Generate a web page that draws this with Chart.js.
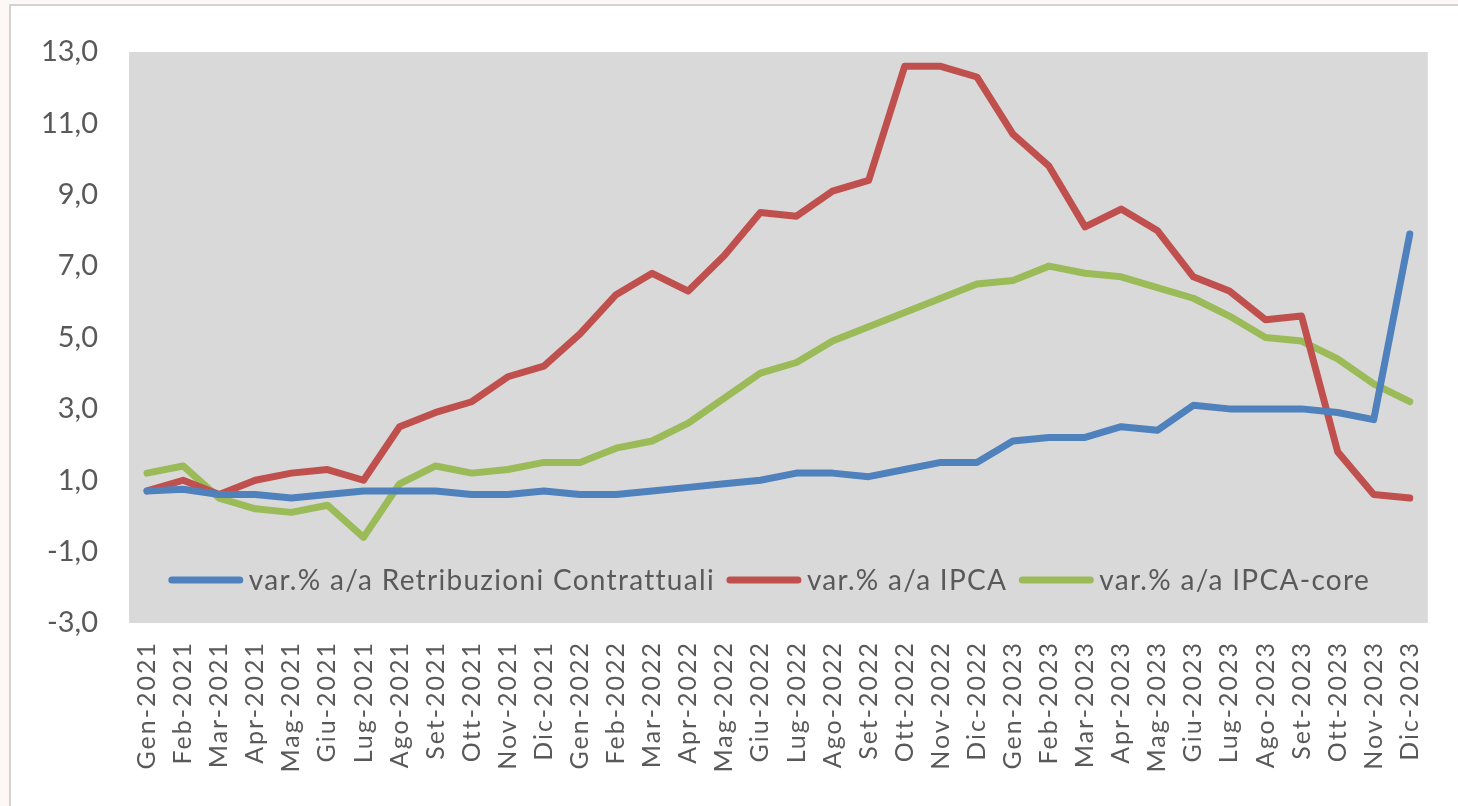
<!DOCTYPE html>
<html>
<head>
<meta charset="utf-8">
<script src="https://cdn.jsdelivr.net/npm/chart.js@4.4.1/dist/chart.umd.min.js"></script>
<style>
  html, body { margin: 0; padding: 0; background: #fdf8f6; }
  #wrap { position: relative; width: 1458px; height: 806px; }
  canvas { display: block; }
</style>
</head>
<body>
<div id="wrap"><canvas id="c" width="1458" height="806"></canvas></div>
<script>
const categories = [
  "Gen-2021","Feb-2021","Mar-2021","Apr-2021","Mag-2021","Giu-2021","Lug-2021","Ago-2021","Set-2021","Ott-2021","Nov-2021","Dic-2021",
  "Gen-2022","Feb-2022","Mar-2022","Apr-2022","Mag-2022","Giu-2022","Lug-2022","Ago-2022","Set-2022","Ott-2022","Nov-2022","Dic-2022",
  "Gen-2023","Feb-2023","Mar-2023","Apr-2023","Mag-2023","Giu-2023","Lug-2023","Ago-2023","Set-2023","Ott-2023","Nov-2023","Dic-2023"
];
const retribuzioni = [
  0.7, 0.75, 0.6, 0.6, 0.5, 0.6, 0.7, 0.7, 0.7, 0.6, 0.6, 0.7,
  0.6, 0.6, 0.7, 0.8, 0.9, 1.0, 1.2, 1.2, 1.1, 1.3, 1.5, 1.5,
  2.1, 2.2, 2.2, 2.5, 2.4, 3.1, 3.0, 3.0, 3.0, 2.9, 2.7, 7.9
];
const ipca = [
  0.7, 1.0, 0.6, 1.0, 1.2, 1.3, 1.0, 2.5, 2.9, 3.2, 3.9, 4.2,
  5.1, 6.2, 6.8, 6.3, 7.3, 8.5, 8.4, 9.1, 9.4, 12.6, 12.6, 12.3,
  10.7, 9.8, 8.1, 8.6, 8.0, 6.7, 6.3, 5.5, 5.6, 1.8, 0.6, 0.5
];
const ipcaCore = [
  1.2, 1.4, 0.5, 0.2, 0.1, 0.3, -0.6, 0.9, 1.4, 1.2, 1.3, 1.5,
  1.5, 1.9, 2.1, 2.6, 3.3, 4.0, 4.3, 4.9, 5.3, 5.7, 6.1, 6.5,
  6.6, 7.0, 6.8, 6.7, 6.4, 6.1, 5.6, 5.0, 4.9, 4.4, 3.7, 3.2
];
const seriesLabels = [
  "var.% a/a Retribuzioni Contrattuali",
  "var.% a/a IPCA",
  "var.% a/a IPCA-core"
];
const seriesColors = ["#4f81bd", "#c0504d", "#9bbb59"];
const yMin = -3, yMax = 13, yStep = 2;

class SpacedCategory extends Chart.CategoryScale {
  drawLabels(area) {
    const ctx = this.ctx;
    ctx.save();
    ctx.letterSpacing = '2px';
    super.drawLabels(area);
    ctx.restore();
  }
}
SpacedCategory.id = 'spacedCategory';
SpacedCategory.defaults = Chart.CategoryScale.defaults;
Chart.register(SpacedCategory);

const plotBg = {
  id: 'plotBg',
  beforeDraw(chart) {
    const ctx = chart.ctx, a = chart.chartArea;
    ctx.save();
    ctx.fillStyle = '#ffffff';
    ctx.fillRect(10, 5, chart.width - 10, chart.height - 5);
    ctx.strokeStyle = '#d3d3d3';
    ctx.lineWidth = 2;
    ctx.beginPath();
    ctx.moveTo(10, chart.height); ctx.lineTo(10, 5); ctx.lineTo(chart.width, 5);
    ctx.stroke();
    ctx.fillStyle = '#d9d9d9';
    ctx.fillRect(a.left, a.top, a.right - a.left, a.bottom - a.top);
    ctx.restore();
  }
};

const innerLegend = {
  id: 'innerLegend',
  afterDatasetsDraw(chart) {
    const ctx = chart.ctx, a = chart.chartArea;
    ctx.save();
    ctx.font = '28px Lato';
    ctx.letterSpacing = '1.3px';
    ctx.textBaseline = 'middle';
    const lineLen = 74, gapText = 6, gapItem = 12;
    const items = chart.data.datasets.map(ds => ({
      label: ds.label, color: ds.borderColor, w: ctx.measureText(ds.label).width
    }));
    let total = 0;
    items.forEach((it, i) => { total += lineLen + gapText + it.w + (i < items.length - 1 ? gapItem : 0); });
    let x = (a.left + a.right) / 2 - 9 - total / 2;
    const y = a.bottom - 43;
    items.forEach(it => {
      ctx.strokeStyle = it.color;
      ctx.lineWidth = 7;
      ctx.lineCap = 'round';
      ctx.beginPath(); ctx.moveTo(x + 3, y); ctx.lineTo(x + lineLen - 3, y); ctx.stroke();
      ctx.fillStyle = '#595959';
      ctx.fillText(it.label, x + lineLen + gapText, y + 1);
      x += lineLen + gapText + it.w + gapItem;
    });
    ctx.restore();
  }
};

const mk = (i, data) => ({
  label: seriesLabels[i], data, borderColor: seriesColors[i], backgroundColor: seriesColors[i],
  borderWidth: 7, pointRadius: 0, tension: 0, borderCapStyle: 'round', borderJoinStyle: 'round', fill: false
});

new Chart(document.getElementById('c'), {
  type: 'line',
  data: {
    labels: categories,
    datasets: [mk(0, retribuzioni), mk(1, ipca), mk(2, ipcaCore)]
  },
  options: {
    responsive: false,
    animation: false,
    layout: { padding: { top: 52, right: 15, left: 0, bottom: 0 } },
    plugins: { legend: { display: false }, tooltip: { enabled: false } },
    scales: {
      x: {
        type: 'spacedCategory',
        offset: true,
        grid: { display: false, drawTicks: false },
        border: { display: false },
        ticks: { color: '#595959', font: { family: 'Lato', size: 25 }, maxRotation: 90, minRotation: 90, padding: 18, autoSkip: false },
        afterFit(s) { s.height = 806 - 623; }
      },
      y: {
        min: yMin, max: yMax,
        grid: { display: false, drawTicks: false },
        border: { display: false },
        ticks: {
          stepSize: yStep, color: '#595959', font: { family: 'Lato', size: 29 }, padding: 31,
          callback: v => v.toFixed(1).replace('.', ',')
        },
        afterFit(s) { s.width = 129; }
      }
    }
  },
  plugins: [plotBg, innerLegend]
});
</script>
</body>
</html>
